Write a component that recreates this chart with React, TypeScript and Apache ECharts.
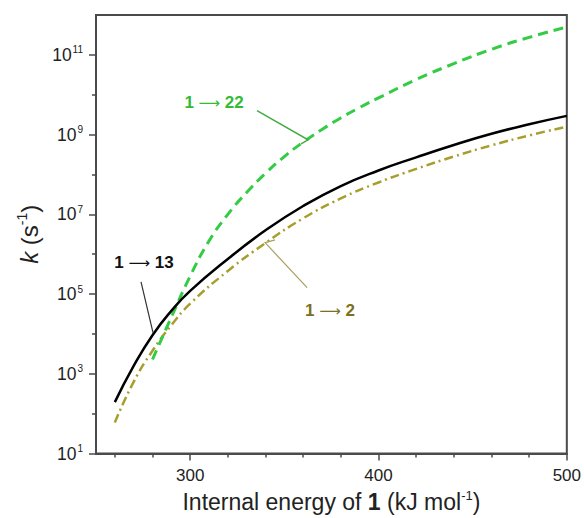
import React, { useEffect, useRef } from "react";
import * as echarts from "echarts";

// Internal energy (kJ/mol) and rate constants k (s^-1)
const energyA = [260, 270, 280, 290, 300, 320, 340, 360, 380, 400, 420, 440, 460, 480, 500];
const k13 = [195, 1580, 9330, 38000, 1.2e5, 7.59e5, 3.98e6, 1.62e7, 5.13e7, 1.26e8, 2.69e8, 5.5e8, 1.05e9, 1.82e9, 2.95e9];
const k2 = [60, 631, 3800, 16600, 57500, 3.8e5, 1.91e6, 7.94e6, 2.51e7, 6.31e7, 1.38e8, 2.82e8, 5.37e8, 9.55e8, 1.58e9];
const energyB = [280, 290, 300, 310, 320, 330, 340, 350, 360, 370, 380, 390, 400, 420, 440, 460, 480, 500];
const k22 = [2290, 26300, 2.82e5, 2.14e6, 1.0e7, 3.55e7, 1.07e8, 2.82e8, 6.46e8, 1.35e9, 2.63e9, 4.79e9, 8.32e9, 2.4e10, 6.03e10, 1.38e11, 2.75e11, 5.01e11];

const xMajor = [300, 400, 500];
const xMinor = [260, 280, 320, 340, 360, 380, 420, 440, 460, 480];
const yMajor = [1e1, 1e3, 1e5, 1e7, 1e9, 1e11];
const yMinor = [1e2, 1e4, 1e6, 1e8, 1e10];

// annotation anchors in data space
const label13 = { from: "1", to: "13", at: [275.5, 6.2e5], pointer: [[273.9, 2.04e5], [280.3, 1.07e4]] };
const label22 = { from: "1", to: "22", at: [312.7, 6.3e9], pointer: [[335.5, 3.98e9], [362.6, 7.41e8], [358.9, 5.89e8]] };
const label2 = { from: "1", to: "2", at: [374.3, 3.8e4], pointer: [[345.1, 2.29e6], [339.8, 1.95e6], [362.1, 1.45e5]] };

const FONT = "'Liberation Sans', Arial, Helvetica, sans-serif";
const AXIS = "#4a4a4a";

export default function App() {
  const ref = useRef<HTMLDivElement>(null);
  useEffect(() => {
    document.body.style.margin = "0";
    if (!ref.current) return;
    const chart = echarts.init(ref.current, null, { renderer: "svg" });
    const toPairs = (xs: number[], ys: number[]) => xs.map((x, i) => [x, ys[i]]);
    const supRich = {
      b: { fontSize: 17.5, fontFamily: FONT, color: "#222", lineHeight: 20 },
      s: { fontSize: 10, fontFamily: FONT, color: "#222", verticalAlign: "top", lineHeight: 20, padding: [0, 0, 0, 1] },
    };
    chart.setOption({
      animation: false,
      grid: { left: 96, right: 17, top: 15, bottom: 64, show: true, borderColor: AXIS, borderWidth: 2, backgroundColor: "transparent" },
      xAxis: [
        {
          type: "value", min: 250, max: 500, position: "bottom",
          axisLine: { show: true, lineStyle: { color: AXIS, width: 2 } },
          axisTick: { show: true, customValues: xMajor, length: 7, lineStyle: { color: AXIS, width: 1.5 } },
          axisLabel: { customValues: xMajor, fontSize: 17, fontFamily: FONT, color: "#222", margin: 13 },
          splitLine: { show: false },
          name: "{a|Internal energy of }{b|1}{a| (kJ mol}{s|-1}{a|)}",
          nameLocation: "middle", nameGap: 32,
          nameTextStyle: {
            rich: {
              a: { fontSize: 23, fontFamily: FONT, color: "#222", lineHeight: 26 },
              b: { fontSize: 23, fontFamily: FONT, color: "#222", fontWeight: "bold", lineHeight: 26 },
              s: { fontSize: 13, fontFamily: FONT, color: "#222", verticalAlign: "top", lineHeight: 26 },
            },
          },
        },
        {
          type: "value", min: 250, max: 500, position: "bottom",
          axisLine: { show: false },
          axisTick: { show: true, customValues: xMinor, length: 4, lineStyle: { color: AXIS, width: 1.5 } },
          axisLabel: { show: false },
          splitLine: { show: false },
        },
      ],
      yAxis: [
        {
          type: "log", logBase: 10, min: 10, max: 1e12, position: "left",
          axisLine: { show: true, lineStyle: { color: AXIS, width: 2 } },
          axisTick: { show: true, customValues: yMajor, length: 7, lineStyle: { color: AXIS, width: 1.5 } },
          axisLabel: {
            customValues: yMajor, margin: 13,
            formatter: (v: number) => `{b|10}{s|${Math.round(Math.log10(v))}}`,
            rich: supRich,
          },
          splitLine: { show: false },
          name: "{i|k}{a| (s}{s|-1}{a|)}",
          nameLocation: "middle", nameGap: 52, nameRotate: 90,
          nameTextStyle: {
            rich: {
              i: { fontSize: 24, fontFamily: FONT, color: "#222", fontStyle: "italic", lineHeight: 28 },
              a: { fontSize: 24, fontFamily: FONT, color: "#222", lineHeight: 28 },
              s: { fontSize: 14, fontFamily: FONT, color: "#222", verticalAlign: "top", lineHeight: 28 },
            },
          },
        },
        {
          type: "log", logBase: 10, min: 10, max: 1e12, position: "left",
          axisLine: { show: false },
          axisTick: { show: true, customValues: yMinor, length: 4, lineStyle: { color: AXIS, width: 1.5 } },
          axisLabel: { show: false },
          splitLine: { show: false },
        },
      ],
      series: [
        {
          type: "line", name: "1→22", data: toPairs(energyB, k22), smooth: 0.5, symbol: "none",
          lineStyle: { color: "#33cc44", width: 3, type: [10, 6] }, z: 3,
        },
        {
          type: "line", name: "1→2", data: toPairs(energyA, k2), smooth: 0.5, symbol: "none",
          lineStyle: { color: "#a89e2c", width: 2.5, type: [9, 4, 2, 4] }, z: 2,
        },
        {
          type: "line", name: "1→13", data: toPairs(energyA, k13), smooth: 0.5, symbol: "none",
          lineStyle: { color: "#000000", width: 2.5 }, z: 4,
        },
      ],
    });

    const px = (p: number[]) => chart.convertToPixel({ gridIndex: 0 }, p) as number[];
    const mk = (lab: typeof label13, textColor: string, lineColor: string, lw: number) => {
      const c = px(lab.at);
      return [
        {
          type: "text", x: c[0], y: c[1], z: 10,
          style: {
            text: `{n|${lab.from}}{a| ⟶ }{n|${lab.to}}`,
            align: "center", verticalAlign: "middle",
            rich: {
              n: { fontSize: 17, fontWeight: "bold", fontFamily: FONT, fill: textColor },
              a: { fontSize: 15, fontFamily: "'DejaVu Sans', sans-serif", fill: textColor },
            },
          },
        },
        {
          type: "polyline", z: 10,
          shape: { points: lab.pointer.map(px) },
          style: { stroke: lineColor, lineWidth: lw, fill: "none" },
        },
      ];
    };
    chart.setOption({
      graphic: [
        ...mk(label13, "#111111", "#333333", 1.2),
        ...mk(label22, "#33bb33", "#44aa44", 1.5),
        ...mk(label2, "#7a7020", "#a8a060", 1.2),
      ],
    });
    return () => chart.dispose();
  }, []);
  return <div ref={ref} style={{ width: 584, height: 518, position: "absolute", left: 0, top: 0 }} />;
}
